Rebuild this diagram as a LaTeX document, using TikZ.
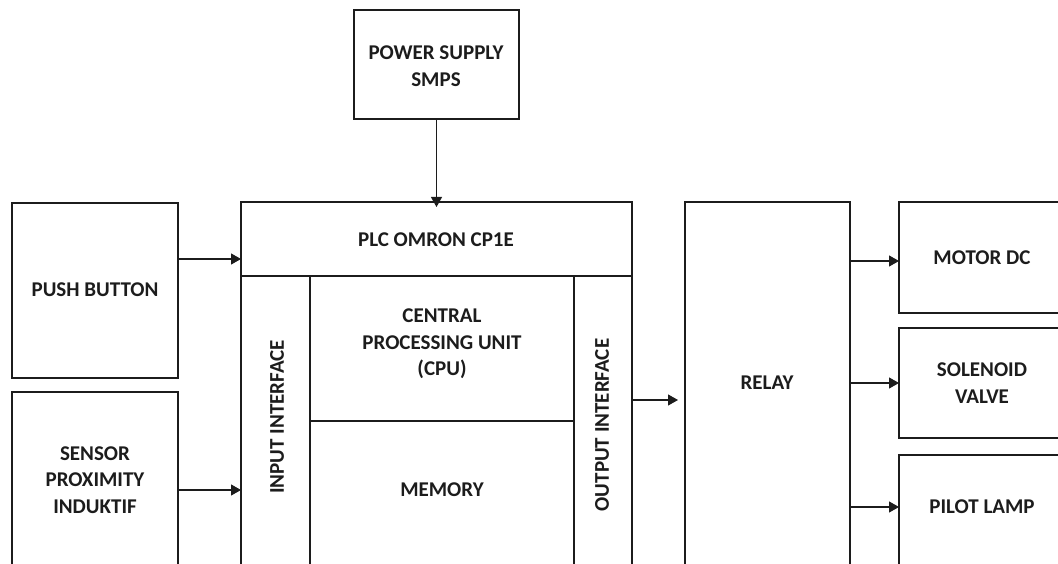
\documentclass[tikz,border=0pt]{standalone}
\usepackage{fontspec}
\setmainfont{Carlito}
\usetikzlibrary{arrows.meta}
\definecolor{ink}{HTML}{1C1C1C}
\begin{document}
\begin{tikzpicture}[x=1pt,y=-1pt,
  blk/.style={draw=ink, line width=2.2pt, anchor=north west, inner sep=0pt, outer sep=0pt},
  txt/.style={text=ink, align=center, inner sep=0pt, font=\bfseries\fontsize{21}{26.5}\selectfont},
  arr/.style={draw=ink, line width=1.1pt, -{Triangle[length=10pt,width=11pt]}}]
\useasboundingbox (0,0) rectangle (1058,564);
\clip (0,0) rectangle (1058,564);
% boxes
\node[blk, minimum width=165pt, minimum height=109pt] (psu) at (354,10) {};
\node[blk, minimum width=391pt, minimum height=400pt] (plc) at (241,202) {};
\node[blk, minimum width=391pt, minimum height=74pt] (plctop) at (241,202) {};
\node[blk, minimum width=69pt, minimum height=330pt] (inif) at (241,276) {};
\node[blk, minimum width=58pt, minimum height=330pt] (outif) at (574,276) {};
\node[blk, minimum width=264pt, minimum height=145pt] (cpu) at (310,276) {};
\node[blk, minimum width=264pt, minimum height=185pt] (mem) at (310,421) {};
\node[blk, minimum width=166pt, minimum height=175pt] (push) at (12,203) {};
\node[blk, minimum width=166pt, minimum height=210pt] (sensor) at (12,392) {};
\node[blk, minimum width=165pt, minimum height=400pt] (relay) at (685,202) {};
\node[blk, minimum width=200pt, minimum height=111pt] (motor) at (899,202) {};
\node[blk, minimum width=200pt, minimum height=110pt] (sol) at (899,328) {};
\node[blk, minimum width=200pt, minimum height=150pt] (lamp) at (899,455) {};
% texts
\node[txt] (tpsu) at (436,66) {POWER SUPPLY\\SMPS};
\node[txt] (tplc) at (436,240) {PLC OMRON CP1E};
\node[txt] (tcpu) at (442,344) {CENTRAL\\PROCESSING UNIT\\(CPU)};
\node[txt] (tmem) at (442,490) {MEMORY};
\node[txt, rotate=90] (tin) at (277,417) {INPUT INTERFACE};
\node[txt, rotate=90] (tout) at (602,425) {OUTPUT INTERFACE};
\node[txt] (trelay) at (767,383) {RELAY};
\node[txt] (tmotor) at (982,258) {MOTOR DC};
\node[txt] (tsol) at (982,383) {SOLENOID\\VALVE};
\node[txt] (tlamp) at (982,507) {PILOT LAMP};
\node[txt] (tpush) at (95,290) {PUSH BUTTON};
\node[txt] (tsensor) at (95,480) {SENSOR\\PROXIMITY\\INDUKTIF};
% connectors
\draw[arr] (psu.south) -- ([yshift=-5pt]plc.north);
\draw[arr] (push.east |- 0,259) -- (plc.west |- 0,259);
\draw[arr] (sensor.east |- 0,490) -- (plc.west |- 0,490);
\draw[arr] (outif.east |- 0,400) -- ([xshift=-7pt]relay.west |- 0,400);
\draw[arr] (relay.east |- 0,261) -- (motor.west |- 0,261);
\draw[arr] (relay.east |- 0,383) -- (sol.west |- 0,383);
\draw[arr] (relay.east |- 0,507) -- (lamp.west |- 0,507);
\end{tikzpicture}
\end{document}
